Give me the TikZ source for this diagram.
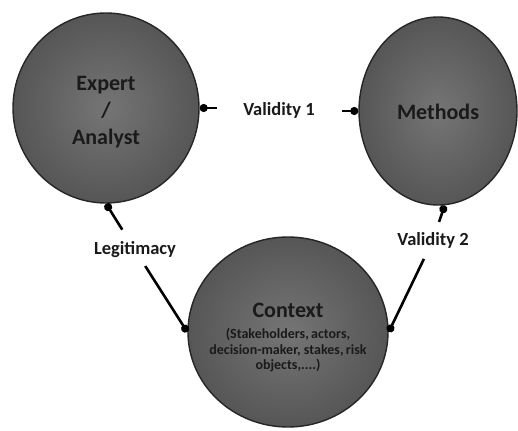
\documentclass[tikz,border=0pt]{standalone}
\usepackage{fontspec}
\setmainfont{Carlito}
\usetikzlibrary{shapes.geometric,arrows.meta}
\definecolor{txt}{HTML}{1A1A1A}
\definecolor{bubin}{HTML}{757575}
\definecolor{bubout}{HTML}{565656}
\tikzset{bdot/.tip={Circle[length=8pt,width=8pt]}}
\begin{document}
\begin{tikzpicture}[x=1pt,y=-1pt,
  bub/.style={ellipse, inner sep=0pt, draw=black!85, line width=1.4pt,
    inner color=bubin, outer color=bubout},
  btext/.style={text=txt, align=center, inner sep=0pt,
    font=\bfseries\fontsize{22}{27}\selectfont},
  stext/.style={text=txt, align=center, inner sep=0pt,
    font=\bfseries\fontsize{14}{15.5}\selectfont},
  lab/.style={inner sep=2pt, text=txt, font=\bfseries\fontsize{18.5}{22}\selectfont},
  conn/.style={line width=2.6pt, black}
]
\useasboundingbox (0,0) rectangle (518,430);
\node[bub, minimum width=186pt, minimum height=190pt,
  label={[btext, yshift=-4pt]center:Expert\\/\\Analyst}] (ea) at (106,108) {};
\node[bub, minimum width=158pt, minimum height=188pt,
  label={[btext, yshift=-1pt]center:Methods}] (me) at (438,111) {};
\node[bub, minimum width=200pt, minimum height=190pt,
  label={[btext, yshift=22pt]center:Context},
  label={[stext, yshift=-18pt]center:(Stakeholders,\,actors,\\decision-maker, stakes,\,risk\\objects,....)}] (cx) at (288,332) {};
\node[lab] (v1) at (279,110) {Validity 1};
\node[lab] (lg) at (135,250) {Legitimacy};
\node[lab] (v2) at (433,240) {Validity 2};
\draw[conn, {bdot}-, shorten >=62pt] (ea.east) -- (v1.center |- ea.east);
\draw[conn, -{bdot}, shorten <=63pt] (v1.center |- me.west) -- (me.west);
\draw[conn, {bdot}-, shorten >=24pt] (ea.south) -- (lg.center);
\draw[conn, -{bdot}, shorten <=19pt] (lg.center) -- (cx.west);
\draw[conn, {bdot}-, shorten >=19pt] (me.-86) -- (v2.center);
\draw[conn, -{bdot}, shorten <=21pt] (v2.center) -- (cx.east);
\end{tikzpicture}
\end{document}
